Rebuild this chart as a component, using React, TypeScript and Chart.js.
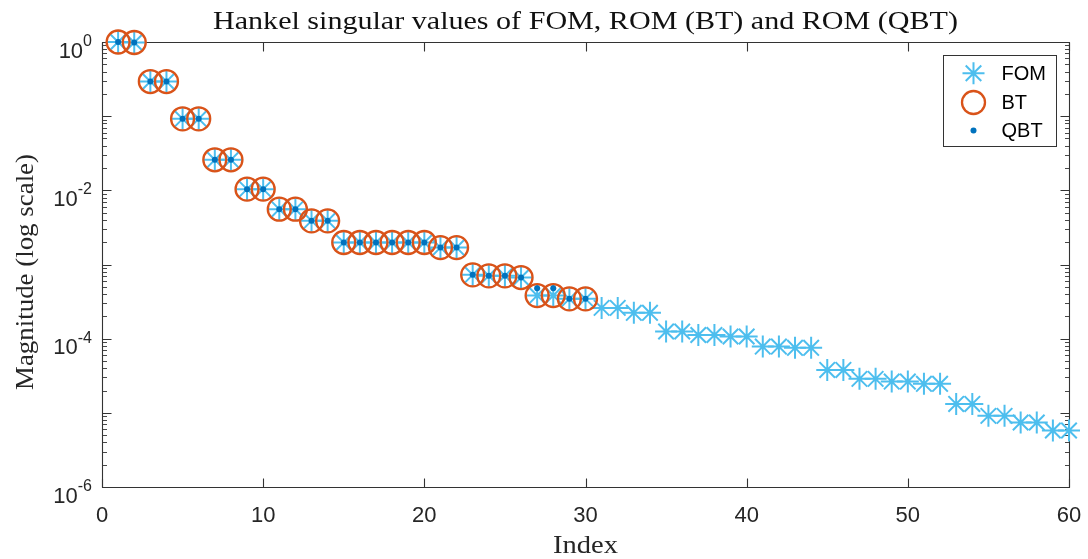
import React, { useEffect, useRef } from 'react';
import { Chart, registerables } from 'chart.js';

Chart.register(...registerables);

// ---------- data ----------
const fomIndex = [
  1, 2, 3, 4, 5, 6, 7, 8, 9, 10, 11, 12, 13, 14, 15, 16, 17, 18, 19, 20,
  21, 22, 23, 24, 25, 26, 27, 28, 29, 30, 31, 32, 33, 34, 35, 36, 37, 38, 39, 40,
  41, 42, 43, 44, 45, 46, 47, 48, 49, 50, 51, 52, 53, 54, 55, 56, 57, 58, 59, 60,
];
const fomValues = [
  1.0, 0.985, 0.293, 0.293, 0.0921, 0.0921, 0.0258, 0.0258, 0.01038, 0.01038,
  0.00557, 0.00557, 0.00388, 0.00388, 0.00198, 0.00198, 0.00198, 0.00198, 0.00198, 0.00198,
  0.00169, 0.00169, 0.000725, 0.000703, 0.000703, 0.000667, 0.000381, 0.000381, 0.000344, 0.000344,
  0.00026, 0.00026, 0.000223, 0.000223, 0.000125, 0.000125, 0.000112, 0.000112, 0.000107, 0.000107,
  7.82e-5, 7.82e-5, 7.52e-5, 7.52e-5, 3.79e-5, 3.79e-5, 2.87e-5, 2.87e-5, 2.64e-5, 2.64e-5,
  2.46e-5, 2.46e-5, 1.32e-5, 1.32e-5, 9.1e-6, 9.1e-6, 7.4e-6, 7.4e-6, 5.77e-6, 5.77e-6,
];
const romIndex = [
  1, 2, 3, 4, 5, 6, 7, 8, 9, 10, 11, 12, 13, 14, 15, 16, 17, 18, 19, 20,
  21, 22, 23, 24, 25, 26, 27, 28, 29, 30,
];
const btValues = [
  1.0, 0.985, 0.293, 0.293, 0.0921, 0.0921, 0.0258, 0.0258, 0.01038, 0.01038,
  0.00557, 0.00557, 0.00388, 0.00388, 0.00198, 0.00198, 0.00198, 0.00198, 0.00198, 0.00198,
  0.00169, 0.00169, 0.000725, 0.000703, 0.000703, 0.000667, 0.000381, 0.000381, 0.000344, 0.000344,
];
const qbtValues = [
  1.0, 0.985, 0.293, 0.293, 0.0921, 0.0921, 0.0258, 0.0258, 0.01038, 0.01038,
  0.00557, 0.00557, 0.00388, 0.00388, 0.00198, 0.00198, 0.00198, 0.00198, 0.00198, 0.00198,
  0.00169, 0.00169, 0.000725, 0.000703, 0.000703, 0.000667, 0.00048, 0.00048, 0.000344, 0.000344,
];

const seriesLabels = ['FOM', 'BT', 'QBT'];
const xTicks = [0, 10, 20, 30, 40, 50, 60];
const yMajorExponents = [-6, -5, -4, -3, -2, -1, 0];
const yLabelExponents = [0, -2, -4, -6];
const minorMultipliers = [2, 3, 4, 5, 6, 7, 8, 9];

const TITLE = 'Hankel singular values of FOM, ROM (BT) and ROM (QBT)';
const X_LABEL = 'Index';
const Y_LABEL = 'Magnitude (log scale)';

// ---------- styles ----------
const COL_FOM = '#4DBEEE';
const COL_BT = '#D95319';
const COL_QBT = '#0072BD';
const AXIS_COL = '#333333';
const TEXT_COL = '#262626';
const SERIF = '"Liberation Serif", "Times New Roman", serif';
const SANS = '"Liberation Sans", Arial, Helvetica, sans-serif';

function drawScaledText(ctx: CanvasRenderingContext2D, text: string, x: number, y: number, targetWidth: number) {
  const w = ctx.measureText(text).width;
  const s = targetWidth / w;
  ctx.save();
  ctx.translate(x, y);
  ctx.scale(s, 1);
  ctx.textAlign = 'center';
  ctx.fillText(text, 0, 0);
  ctx.restore();
}

const matlabAxesPlugin = {
  id: 'matlabAxes',
  beforeDraw(chart: any) {
    const { ctx, width, height } = chart;
    ctx.save();
    ctx.fillStyle = '#ffffff';
    ctx.fillRect(0, 0, width, height);
    ctx.restore();
  },
  beforeDatasetsDraw(chart: any) {
    const { ctx, chartArea } = chart;
    const xs = chart.scales.x;
    const ys = chart.scales.y;
    const L = chartArea.left + 0.5;
    const R = chartArea.right + 0.5;
    const T = chartArea.top + 0.5;
    const B = chartArea.bottom + 0.5;
    ctx.save();
    ctx.strokeStyle = AXIS_COL;
    ctx.lineWidth = 1.1;
    ctx.beginPath();
    ctx.rect(L, T, R - L, B - T);
    ctx.stroke();

    // x ticks (inward, bottom & top)
    ctx.beginPath();
    for (const v of xTicks) {
      const px = Math.round(xs.getPixelForValue(v)) + 0.5;
      ctx.moveTo(px, B);
      ctx.lineTo(px, B - 9);
      ctx.moveTo(px, T);
      ctx.lineTo(px, T + 9);
    }
    // y major ticks
    for (const e of yMajorExponents) {
      const py = Math.round(ys.getPixelForValue(Math.pow(10, e))) + 0.5;
      ctx.moveTo(L, py);
      ctx.lineTo(L + 9, py);
      ctx.moveTo(R, py);
      ctx.lineTo(R - 9, py);
    }
    ctx.stroke();
    // y minor ticks
    ctx.beginPath();
    ctx.lineWidth = 0.9;
    for (const e of yMajorExponents) {
      if (e >= 0) continue;
      for (const m of minorMultipliers) {
        const py = Math.round(ys.getPixelForValue(m * Math.pow(10, e))) + 0.5;
        ctx.moveTo(L, py);
        ctx.lineTo(L + 4.5, py);
        ctx.moveTo(R, py);
        ctx.lineTo(R - 4.5, py);
      }
    }
    ctx.stroke();
    ctx.restore();
  },
  afterDraw(chart: any) {
    const { ctx, chartArea } = chart;
    const xs = chart.scales.x;
    const ys = chart.scales.y;
    ctx.save();
    ctx.fillStyle = TEXT_COL;

    // x tick labels
    ctx.font = `22px ${SANS}`;
    ctx.textAlign = 'center';
    ctx.textBaseline = 'alphabetic';
    for (const v of xTicks) {
      ctx.fillText(String(v), xs.getPixelForValue(v), chartArea.bottom + 35);
    }

    // y tick labels with superscript exponent
    for (const e of yLabelExponents) {
      const py = ys.getPixelForValue(Math.pow(10, e));
      const base = '10';
      const sup = e === 0 ? '0' : `-${Math.abs(e)}`;
      ctx.font = `16px ${SANS}`;
      const wSup = ctx.measureText(sup).width;
      ctx.font = `22px ${SANS}`;
      const wBase = ctx.measureText(base).width;
      const right = chartArea.left - 10;
      ctx.textAlign = 'left';
      ctx.fillText(base, right - wSup - wBase, py + 15.5);
      ctx.font = `16px ${SANS}`;
      ctx.fillText(sup, right - wSup, py + 4);
    }

    // title
    ctx.fillStyle = '#111111';
    ctx.font = `25px ${SERIF}`;
    ctx.textBaseline = 'alphabetic';
    drawScaledText(ctx, TITLE, (chartArea.left + chartArea.right) / 2, 28.5, 745);

    // x label
    ctx.fillStyle = TEXT_COL;
    ctx.font = `26px ${SERIF}`;
    drawScaledText(ctx, X_LABEL, (chartArea.left + chartArea.right) / 2, 553, 65);

    // y label
    ctx.save();
    ctx.translate(33, 272);
    ctx.rotate(-Math.PI / 2);
    ctx.font = `26px ${SERIF}`;
    drawScaledText(ctx, Y_LABEL, 0, 0, 236);
    ctx.restore();

    // legend
    const bx = 943.5, by = 55.5, bw = 113, bh = 91;
    ctx.fillStyle = '#ffffff';
    ctx.fillRect(bx, by, bw, bh);
    ctx.strokeStyle = AXIS_COL;
    ctx.lineWidth = 1;
    ctx.strokeRect(bx, by, bw, bh);
    const rows = [73.3, 102.5, 130.5];
    const sx = 973.5;
    // star
    ctx.strokeStyle = COL_FOM;
    ctx.lineWidth = 2;
    ctx.beginPath();
    const r = 11;
    const d = r * Math.SQRT1_2;
    ctx.moveTo(sx - r, rows[0]); ctx.lineTo(sx + r, rows[0]);
    ctx.moveTo(sx, rows[0] - r); ctx.lineTo(sx, rows[0] + r);
    ctx.moveTo(sx - d, rows[0] - d); ctx.lineTo(sx + d, rows[0] + d);
    ctx.moveTo(sx - d, rows[0] + d); ctx.lineTo(sx + d, rows[0] - d);
    ctx.stroke();
    // circle
    ctx.strokeStyle = COL_BT;
    ctx.lineWidth = 2.3;
    ctx.beginPath();
    ctx.arc(sx, rows[1], 11.5, 0, Math.PI * 2);
    ctx.stroke();
    // dot
    ctx.fillStyle = COL_QBT;
    ctx.beginPath();
    ctx.arc(sx, rows[2], 3, 0, Math.PI * 2);
    ctx.fill();
    // texts
    ctx.fillStyle = '#000000';
    ctx.font = `20px ${SANS}`;
    ctx.textAlign = 'left';
    ctx.textBaseline = 'middle';
    seriesLabels.forEach((lab, i) => {
      ctx.fillText(lab, 1001.5, rows[i] + 1);
    });
    ctx.restore();
  },
};

export default function App() {
  const canvasRef = useRef<HTMLCanvasElement | null>(null);

  useEffect(() => {
    const canvas = canvasRef.current;
    if (!canvas) return;
    const fomData = fomIndex.map((x, i) => ({ x, y: fomValues[i] }));
    const btData = romIndex.map((x, i) => ({ x, y: btValues[i] }));
    const qbtData = romIndex.map((x, i) => ({ x, y: qbtValues[i] }));

    const chart = new Chart(canvas, {
      type: 'scatter',
      data: {
        datasets: [
          {
            label: seriesLabels[0],
            data: fomData,
            pointStyle: 'star',
            pointRadius: 11,
            borderColor: COL_FOM,
            backgroundColor: 'rgba(0,0,0,0)',
            pointBorderWidth: 2,
            borderWidth: 2,
            showLine: false,
            clip: false,
            order: 2,
          },
          {
            label: seriesLabels[1],
            data: btData,
            pointStyle: 'circle',
            pointRadius: 11.5,
            borderColor: COL_BT,
            backgroundColor: 'rgba(0,0,0,0)',
            pointBorderWidth: 2.3,
            borderWidth: 2.3,
            showLine: false,
            clip: false,
            order: 1,
          },
          {
            label: seriesLabels[2],
            data: qbtData,
            pointStyle: 'circle',
            pointRadius: 3,
            borderColor: COL_QBT,
            backgroundColor: COL_QBT,
            pointBorderWidth: 0,
            borderWidth: 0,
            showLine: false,
            clip: false,
            order: 0,
          },
        ],
      },
      options: {
        animation: false,
        responsive: false,
        maintainAspectRatio: false,
        devicePixelRatio: 1,
        events: [],
        layout: {
          autoPadding: false,
          padding: { left: 102, right: 19, top: 42, bottom: 72 },
        },
        scales: {
          x: { type: 'linear', min: 0, max: 60, display: false },
          y: { type: 'logarithmic', min: 1e-6, max: 1, display: false },
        },
        plugins: {
          legend: { display: false },
          title: { display: false },
          tooltip: { enabled: false },
        },
      },
      plugins: [matlabAxesPlugin],
    });
    return () => chart.destroy();
  }, []);

  return (
    <div style={{ position: 'absolute', left: 0, top: 0, width: 1088, height: 559, background: '#fff' }}>
      <canvas ref={canvasRef} width={1088} height={559} style={{ display: 'block' }} />
    </div>
  );
}
